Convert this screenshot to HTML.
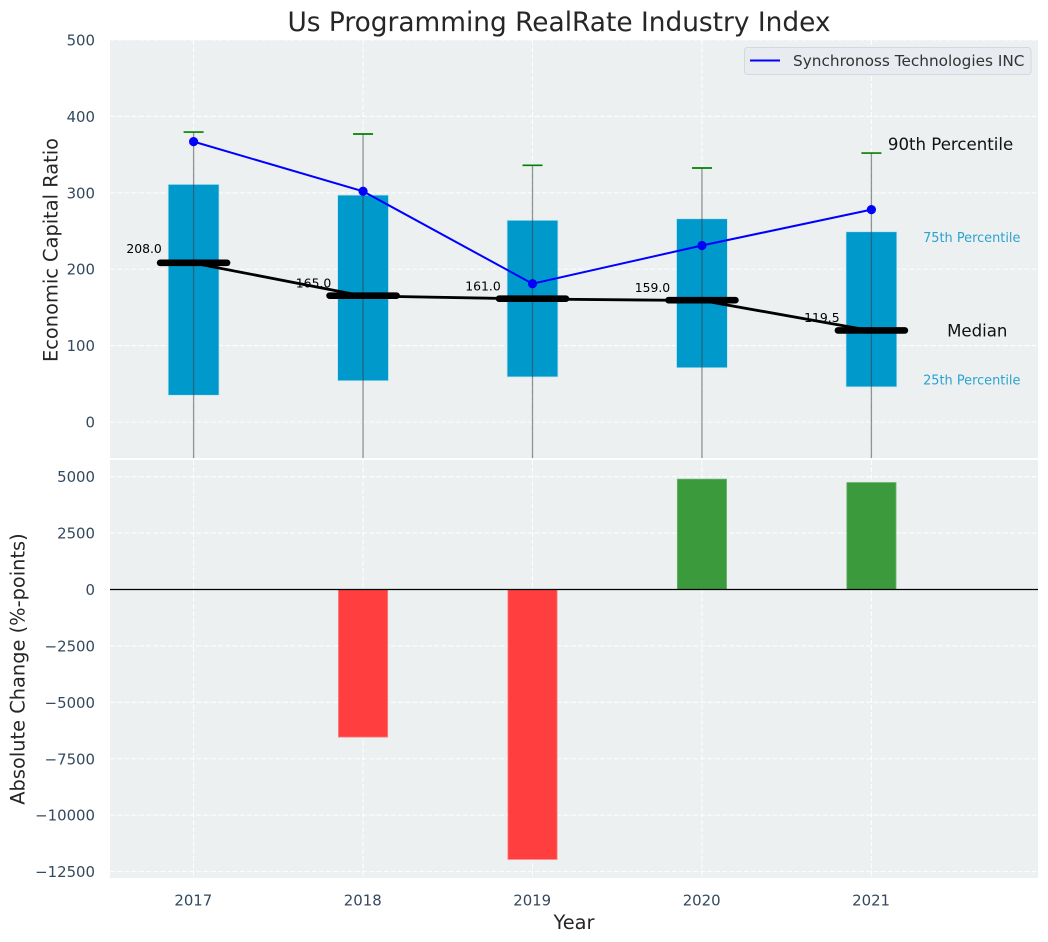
<!DOCTYPE html>
<html>
<head>
<meta charset="utf-8">
<title>Us Programming RealRate Industry Index</title>
<style>
html,body{margin:0;padding:0;background:#fff;width:1048px;height:942px;overflow:hidden}
svg{display:block;font-family:"DejaVu Sans","Liberation Sans",sans-serif}
</style>
</head>
<body>
<svg id="chart" width="1048" height="942" viewBox="0 0 1048 942" xmlns="http://www.w3.org/2000/svg"></svg>
<script>
const years = [2017, 2018, 2019, 2020, 2021];
const p25 = [35, 54, 59, 71, 46];
const p75 = [311, 297, 264, 266, 249];
const p90 = [379.5, 377, 336, 332.5, 352];
const p10 = [-60, -60, -60, -60, -60];
const medians = [208.0, 165.0, 161.0, 159.0, 119.5];
const companyValues = [367, 302, 181, 231, 278];
const absoluteChange = [0, -6540, -11960, 4890, 4740];
const topTicks = [0, 100, 200, 300, 400, 500];
const bottomTicks = [-12500, -10000, -7500, -5000, -2500, 0, 2500, 5000];

const svg = document.getElementById('chart');
const NS = 'http://www.w3.org/2000/svg';
function add(tag, attrs, parent, text) {
  const el = document.createElementNS(NS, tag);
  for (const k in attrs) el.setAttribute(k, attrs[k]);
  if (text !== undefined) el.textContent = text;
  (parent || svg).appendChild(el);
  return el;
}
const X = v => 193.6 + (v - 2017) * 169.45;
const YT = v => 422 - 0.764 * v;
const YB = v => 589.5 - 0.02257 * v;
const L = 110, R = 1038, T1 = 40, B1 = 458, T2 = 460, B2 = 878;
const TICK = '#34495e', INK = '#262626';
const fmt = v => String(v).replace('-', '\u2212');

const defs = add('defs', {});
const c1 = add('clipPath', {id: 'clip-top'}, defs);
add('rect', {x: L, y: T1, width: R - L, height: B1 - T1}, c1);
const c2 = add('clipPath', {id: 'clip-bottom'}, defs);
add('rect', {x: L, y: T2, width: R - L, height: B2 - T2}, c2);

const title = add('text', {x: 559, y: 31, 'font-size': 26.4, 'text-anchor': 'middle', fill: INK}, svg, 'Us Programming RealRate Industry Index');



const bgTop = add('rect', {x: L, y: T1, width: R - L, height: B1 - T1, fill: '#ecf0f1'});


const bgBottom = add('rect', {x: L, y: T2, width: R - L, height: B2 - T2, fill: '#ecf0f1'});



const gridStyle = {stroke: '#ffffff', 'stroke-width': 1.1, 'stroke-dasharray': '5 2.2', 'stroke-opacity': 0.9};
const topG = add('g', {'clip-path': 'url(#clip-top)'});


const botG = add('g', {'clip-path': 'url(#clip-bottom)'});



topTicks.forEach(t => {
  const g = add('line', Object.assign({x1: L, x2: R, y1: YT(t), y2: YT(t)}, gridStyle), topG);
  
  
  const lab = add('text', {x: 95, y: YT(t) + 5.5, 'font-size': 14.9, 'text-anchor': 'end', fill: TICK}, svg, fmt(t));
  
  
});
bottomTicks.forEach(t => {
  const g = add('line', Object.assign({x1: L, x2: R, y1: YB(t), y2: YB(t)}, gridStyle), botG);
  
  
  const lab = add('text', {x: 95, y: YB(t) + 5.5, 'font-size': 14.9, 'text-anchor': 'end', fill: TICK}, svg, fmt(t));
  
  
});
years.forEach(y => {
  const g1 = add('line', Object.assign({x1: X(y), x2: X(y), y1: T1, y2: B1}, gridStyle), topG);
  
  
  const g2 = add('line', Object.assign({x1: X(y), x2: X(y), y1: T2, y2: B2}, gridStyle), botG);
  
  
  const lab = add('text', {x: X(y) - 0.3, y: 905.5, 'font-size': 14.9, 'text-anchor': 'middle', fill: TICK}, svg, y);
  
  
});

/* boxes */
years.forEach((y, i) => {
  const box = add('rect', {x: X(y) - 25.4, width: 50.8, y: YT(p75[i]), height: YT(p25[i]) - YT(p75[i]), fill: '#0099cc', stroke: '#bfe3ee', 'stroke-width': 0.7}, topG);
  
  
});
/* whiskers */
years.forEach((y, i) => {
  const w = add('line', {x1: X(y), x2: X(y), y1: YT(p90[i]), y2: YT(p10[i]), stroke: '#3a3f44', 'stroke-opacity': 0.55, 'stroke-width': 1.3}, topG);
  
  
  const cap = add('line', {x1: X(y) - 10, x2: X(y) + 10, y1: YT(p90[i]), y2: YT(p90[i]), stroke: '#008000', 'stroke-width': 1.7}, topG);
  
  
});
/* median labels */
years.forEach((y, i) => {
  const t = add('text', {x: X(y) - 49.5, y: YT(medians[i]) - (i === 0 ? 10 : 8.5), 'font-size': 12.4, 'text-anchor': 'middle', fill: '#000'}, topG, medians[i].toFixed(1));
  
  
});
/* median line */
const medianLine = add('polyline', {points: years.map((y, i) => X(y) + ',' + YT(medians[i])).join(' '), fill: 'none', stroke: '#000', 'stroke-width': 2.8}, topG);


years.forEach((y, i) => {
  const m = add('line', {x1: X(y) - 33.5, x2: X(y) + 33.5, y1: YT(medians[i]) - 0.3, y2: YT(medians[i]) - 0.3, stroke: '#000', 'stroke-width': 6.6, 'stroke-linecap': 'round'}, topG);
  
  
});
/* company line */
const coLine = add('polyline', {points: years.map((y, i) => X(y) + ',' + YT(companyValues[i])).join(' '), fill: 'none', stroke: '#0000ff', 'stroke-width': 2}, topG);


years.forEach((y, i) => {
  const p = add('circle', {cx: X(y), cy: YT(companyValues[i]), r: 4.6, fill: '#0000ff'}, topG);
  
  
});

/* annotations tied to last year */
const last = years.length - 1;
const a90 = add('text', {x: X(years[last]) + 16.5, y: YT(p90[last]) - 3, 'font-size': 16.6, fill: '#111'}, svg, '90th Percentile');


const a75 = add('text', {x: X(years[last]) + 51.7, y: YT(p75[last]) + 10, 'font-size': 12.9, fill: '#2aa3cf'}, svg, '75th Percentile');


const aMed = add('text', {x: X(years[last]) + 75.7, y: YT(medians[last]) + 6, 'font-size': 16.6, fill: '#111'}, svg, 'Median');


const a25 = add('text', {x: X(years[last]) + 51.7, y: YT(p25[last]) - 2.5, 'font-size': 12.9, fill: '#2aa3cf'}, svg, '25th Percentile');



/* bottom bars */
years.forEach((y, i) => {
  const v = absoluteChange[i];
  if (!v) return;
  const b = add('rect', {x: X(y) - 24.6, width: 49.2, y: Math.min(YB(v), YB(0)), height: Math.abs(YB(v) - YB(0)), fill: v > 0 ? '#3a9a3c' : '#ff3f3f', stroke: v > 0 ? '#6cb36e' : '#ff7f7f', 'stroke-width': 0.8}, botG);
  
  
});
const zero = add('line', {x1: L, x2: R, y1: YB(0), y2: YB(0), stroke: '#000', 'stroke-width': 1.2}, botG);



/* legend */
const lg = add('g', {});


add('rect', {x: 744.5, y: 47.5, width: 286.5, height: 27, rx: 3, fill: '#e8ebef', stroke: '#d5d8dc', 'stroke-width': 1}, lg);
const lgLine = add('line', {x1: 750, x2: 780, y1: 60.5, y2: 60.5, stroke: '#0000ff', 'stroke-width': 2}, lg);


const lgText = add('text', {x: 793, y: 66, 'font-size': 15.3, fill: '#333'}, lg, 'Synchronoss Technologies INC');



/* axis titles */
const yt1 = add('text', {x: 0, y: 0, transform: 'translate(57.5,250) rotate(-90)', 'font-size': 19.4, 'text-anchor': 'middle', fill: INK}, svg, 'Economic Capital Ratio');


const yt2 = add('text', {x: 0, y: 0, transform: 'translate(24.5,669) rotate(-90)', 'font-size': 19.4, 'text-anchor': 'middle', fill: INK}, svg, 'Absolute Change (%-points)');


const xt = add('text', {x: 574, y: 929, 'font-size': 19.4, 'text-anchor': 'middle', fill: INK}, svg, 'Year');


</script>
</body>
</html>
